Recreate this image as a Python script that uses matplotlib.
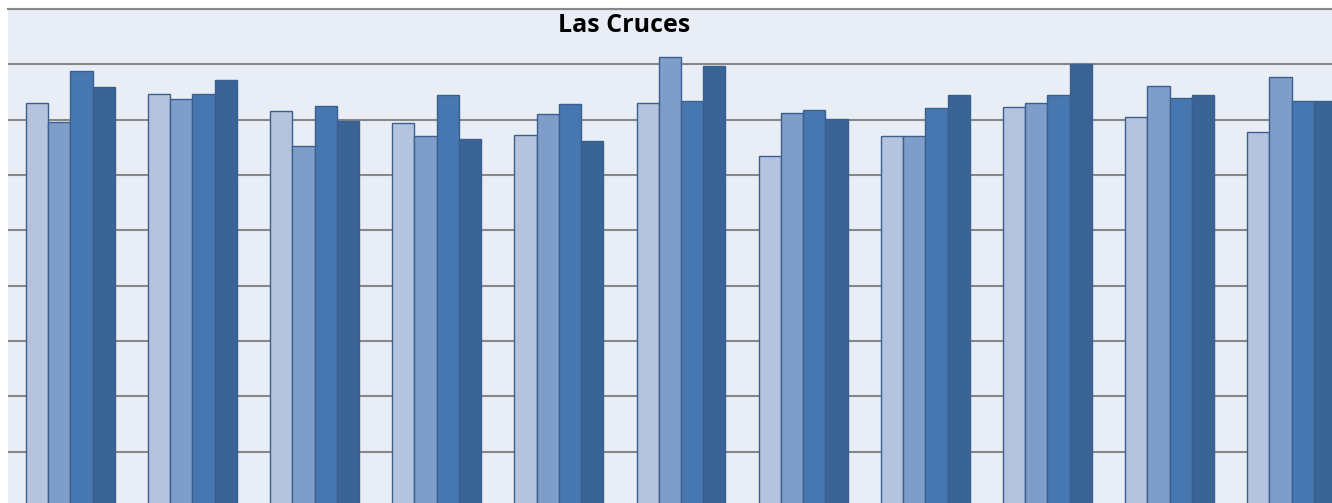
import numpy as np
import matplotlib
matplotlib.use("Agg")
import matplotlib.pyplot as plt

# values per group (4 series)
series_a = [73.0, 74.6, 71.6, 69.4, 67.2, 73.0, 63.4, 67.0, 72.3, 70.4, 67.7]
series_b = [69.6, 73.7, 65.3, 67.0, 71.0, 81.4, 71.3, 67.0, 73.0, 76.1, 77.8]
series_c = [78.8, 74.6, 72.5, 74.5, 72.8, 73.3, 71.8, 72.1, 74.5, 74.0, 73.3]
series_d = [75.9, 77.1, 69.7, 66.6, 66.1, 79.7, 70.2, 74.5, 80.0, 74.5, 73.3]
series = [series_a, series_b, series_c, series_d]
colors = ["#B4C3DE", "#7F9DC9", "#4777B1", "#3A6496"]
title = "Las Cruces"

W, H = 1332, 503
fig = plt.figure(figsize=(W / 100, H / 100), dpi=100)
ax = fig.add_axes((8 / W, 0, 1 - 8 / W, (H - 9) / H))
ax.set_facecolor("#E9EDF5")

x = np.arange(len(series_a))
bw = 0.182
for i, (vals, col) in enumerate(zip(series, colors)):
    ax.bar(x + (i - 1.5) * bw, vals, width=bw, color=col,
           edgecolor="#3B5F8E", linewidth=1.0, zorder=3)

ax.set_xlim(-0.51, 10.33)
ax.set_ylim(0.75, 90)
ax.set_yticks(np.arange(10, 91, 10))
ax.yaxis.grid(True, color="#878787", linewidth=1.5, zorder=0)
ax.axhline(90, color="#878787", linewidth=1.5, clip_on=False, zorder=1)
ax.set_axisbelow(True)
ax.tick_params(left=False, bottom=False, labelleft=False, labelbottom=False)
for s in ax.spines.values():
    s.set_visible(False)

fig.text(624 / W, 1 - 26 / H, title, ha="center", va="center",
         fontsize=18, fontweight="bold", family=["Open Sans", "DejaVu Sans"])

fig.savefig("out.png", dpi=100)
